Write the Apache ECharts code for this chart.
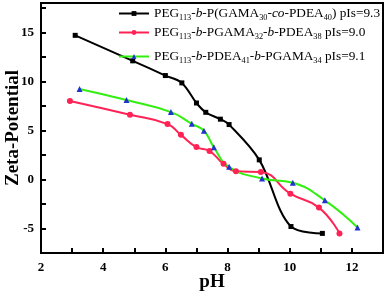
<!DOCTYPE html>
<html>
<head>
<meta charset="utf-8">
<script src="https://cdn.jsdelivr.net/npm/echarts@6/dist/echarts.min.js"></script>
<style>html,body{margin:0;padding:0;background:#fff}#c{width:389px;height:294px}</style>
</head>
<body>
<div id="c"></div>
<script>
var blackX = [3.1, 4.95, 6.0, 6.53, 7.0, 7.3, 7.77, 8.05, 9.02, 10.04, 11.05];
var blackY = [14.7, 12.1, 10.6, 9.85, 7.8, 6.85, 6.15, 5.6, 2.0, -4.8, -5.5];
var redX = [2.93, 4.86, 6.07, 6.5, 7.0, 7.42, 7.87, 8.27, 9.07, 10.02, 10.94, 11.6];
var redY = [8.0, 6.6, 5.65, 4.55, 3.3, 2.9, 1.6, 0.85, 0.75, -1.45, -2.87, -5.5];
var greenX = [3.24, 4.75, 6.18, 6.85, 7.24, 7.56, 8.05, 9.11, 10.1, 11.13, 12.18];
var greenY = [9.23, 8.1, 6.87, 5.68, 4.97, 3.28, 1.29, 0.1, -0.34, -2.13, -4.9];
var seriesNames = [
  'PEG{s|113}-{i|b}-P(GAMA{s|30}-{i|co}-PDEA{s|40}) pIs=9.3',
  'PEG{s|113}-{i|b}-PGAMA{s|32}-{i|b}-PDEA{s|38} pIs=9.0',
  'PEG{s|113}-{i|b}-PDEA{s|41}-{i|b}-PGAMA{s|34} pIs=9.1'
];
var seriesKeys = ['A', 'B', 'C'];

function zip(xs, ys) { return xs.map(function (x, i) { return [x, ys[i]]; }); }

var font = 'Liberation Serif';
var rich = {
  s: { fontFamily: font, fontSize: 8.3, padding: [9, 0, 0, 0], color: '#000' },
  i: { fontFamily: font, fontSize: 13.3, fontStyle: 'italic', color: '#000' }
};
function mkLegend(idx, top) {
  return {
    data: [seriesKeys[idx]],
    left: 118, top: top, padding: 0,
    itemWidth: 30, itemHeight: 6, itemGap: 4,
    formatter: function () { return seriesNames[idx]; },
    textStyle: { fontFamily: font, fontSize: 13.3, color: '#000', rich: rich }
  };
}

var chart = echarts.init(document.getElementById('c'));
chart.setOption({
  animation: false,
  grid: { left: 41, right: 6, top: 3, bottom: 41, show: true, borderColor: '#000', borderWidth: 2,
    containLabel: false, outerBoundsMode: 'none', z: -1 },
  legend: [mkLegend(0, 7), mkLegend(1, 26), mkLegend(2, 50)],
  xAxis: {
    type: 'value', min: 2, max: 13, interval: 1, z: 5,
    name: 'pH', nameLocation: 'middle', nameGap: 20, nameMoveOverlap: false,
    nameTextStyle: { fontFamily: font, fontWeight: 'bold', fontSize: 19, color: '#000' },
    axisLine: { onZero: false, lineStyle: { color: '#000', width: 2 } },
    axisTick: { show: true, inside: false, length: -5, lineStyle: { color: '#000', width: 2 } },
    axisLabel: { margin: 8, fontFamily: font, fontWeight: 'bold', fontSize: 13, color: '#000',
      formatter: function (v) { return (v % 2 === 0 && v < 13) ? String(v) : ''; } },
    splitLine: { show: false }
  },
  yAxis: {
    type: 'value', min: -7.5, max: 18, interval: 2.5, z: 5,
    name: 'Zeta-Potential', nameLocation: 'middle', nameGap: 18, nameMoveOverlap: false,
    nameTextStyle: { fontFamily: font, fontWeight: 'bold', fontSize: 19, color: '#000' },
    axisLine: { onZero: false, lineStyle: { color: '#000', width: 2 } },
    axisTick: { show: true, inside: false, length: -5, lineStyle: { color: '#000', width: 2 } },
    axisLabel: { margin: 7, fontFamily: font, fontWeight: 'bold', fontSize: 13, color: '#000',
      formatter: function (v) { return (Math.abs(v % 5) < 1e-9) ? String(v) : ''; } },
    splitLine: { show: false }
  },
  series: [
    { name: 'A', type: 'line', smooth: 0.35, data: zip(blackX, blackY),
      symbol: 'rect', symbolSize: 5,
      lineStyle: { color: '#000', width: 2 }, itemStyle: { color: '#000' } },
    { name: 'B', type: 'line', smooth: 0.5, data: zip(redX, redY),
      symbol: 'circle', symbolSize: 6,
      lineStyle: { color: '#ff2255', width: 2 }, itemStyle: { color: '#ff2255' } },
    { name: 'C', type: 'line', smooth: 0.5, data: zip(greenX, greenY),
      symbol: 'triangle', symbolSize: 6,
      lineStyle: { color: '#33ee11', width: 2 }, itemStyle: { color: '#2233cc' } }
  ]
});
</script>
</body>
</html>
